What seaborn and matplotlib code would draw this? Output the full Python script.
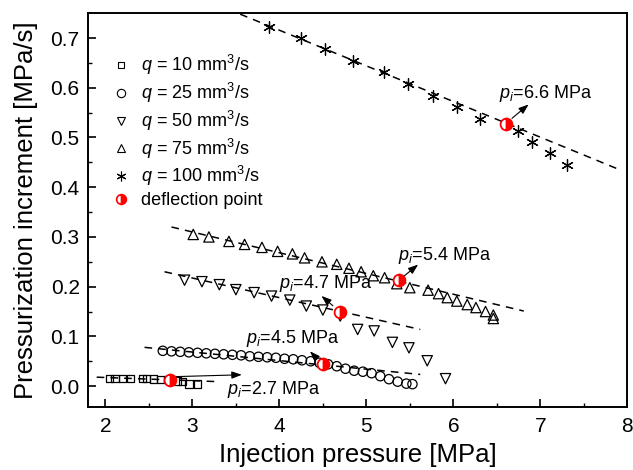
import numpy as np
import pandas as pd
import matplotlib
matplotlib.use("Agg")
import matplotlib.pyplot as plt
from matplotlib.lines import Line2D
import seaborn as sns

q10_x = [2.05, 2.11, 2.20, 2.29, 2.43, 2.47, 2.55, 2.63, 2.72, 2.83, 2.89, 2.96, 3.06]
q10_y = [0.016, 0.016, 0.016, 0.016, 0.015, 0.015, 0.014, 0.013, 0.013, 0.010, 0.009, 0.004, 0.004]

q25_x = [2.66, 2.76, 2.86, 2.96, 3.06, 3.16, 3.26, 3.36, 3.46, 3.56, 3.66, 3.76, 3.86, 3.96, 4.06,
         4.16, 4.26, 4.36, 4.46, 4.56, 4.66, 4.76, 4.86, 4.96, 5.06, 5.16, 5.26, 5.36, 5.46, 5.53]
q25_y = [0.071, 0.070, 0.069, 0.068, 0.067, 0.066, 0.065, 0.064, 0.063, 0.062, 0.060, 0.059, 0.058,
         0.057, 0.055, 0.054, 0.052, 0.050, 0.047, 0.044, 0.040, 0.035, 0.031, 0.029, 0.026, 0.020,
         0.014, 0.009, 0.005, 0.004]

q50_x = [2.91, 3.11, 3.31, 3.50, 3.71, 3.91, 4.12, 4.31, 4.50, 4.70, 4.90, 5.09, 5.30, 5.49, 5.70, 5.91]
q50_y = [0.213, 0.210, 0.204, 0.194, 0.188, 0.181, 0.173, 0.161, 0.153, 0.141, 0.114, 0.111, 0.088,
         0.077, 0.051, 0.015]

q75_x = [3.01, 3.19, 3.42, 3.60, 3.80, 3.98, 4.15, 4.29, 4.49, 4.66, 4.80, 4.94, 5.08, 5.21, 5.35,
         5.50, 5.71, 5.83, 5.93, 6.04, 6.16, 6.26, 6.37, 6.46, 6.46]
q75_y = [0.305, 0.300, 0.291, 0.285, 0.279, 0.271, 0.266, 0.258, 0.250, 0.245, 0.237, 0.230, 0.222,
         0.218, 0.206, 0.198, 0.193, 0.186, 0.178, 0.171, 0.164, 0.158, 0.150, 0.143, 0.136]

q100_x = [3.88, 4.25, 4.53, 4.85, 5.20, 5.48, 5.77, 6.04, 6.31, 6.74, 6.90, 7.11, 7.31]
q100_y = [0.722, 0.700, 0.677, 0.653, 0.631, 0.607, 0.583, 0.561, 0.537, 0.513, 0.491, 0.468, 0.444]

# dashed fit lines (start / end)
fit_x = {"10": [1.90, 3.30], "25": [2.45, 5.62], "50": [2.68, 5.62], "75": [2.76, 6.81], "100": [3.55, 7.88]}
fit_y = {"10": [0.018, 0.009], "25": [0.078, 0.0235], "50": [0.230, 0.114], "75": [0.320, 0.151], "100": [0.748, 0.4375]}

# deflection points
defl_x = [2.74, 4.50, 4.70, 5.37, 6.60]
defl_y = [0.013, 0.044, 0.149, 0.213, 0.528]
defl_labels = ["2.7", "4.5", "4.7", "5.4", "6.6"]

sns.set_style("ticks")
plt.rcParams["font.family"] = ["Liberation Sans", "DejaVu Sans"]
plt.rcParams["mathtext.fontset"] = "custom"
plt.rcParams["mathtext.rm"] = "Liberation Sans"
plt.rcParams["mathtext.it"] = "Liberation Sans:italic"
for key in ["text.color", "axes.labelcolor", "xtick.color", "ytick.color", "axes.edgecolor"]:
    plt.rcParams[key] = "black"

fig = plt.figure(figsize=(6.33, 4.70), dpi=100)
ax = fig.add_axes([0.139, 0.134, 0.852, 0.838])

for k in fit_x:
    sns.lineplot(x=fit_x[k], y=fit_y[k], ax=ax, color="black", lw=1.1, linestyle=(0, (5, 4)))

sns.scatterplot(x=q10_x, y=q10_y, ax=ax, marker="s", s=28, facecolor="none", edgecolor="black", linewidth=0.9)
sns.scatterplot(x=q25_x, y=q25_y, ax=ax, marker="o", s=45, facecolor="none", edgecolor="black", linewidth=0.9)
sns.scatterplot(x=q50_x, y=q50_y, ax=ax, marker="v", s=55, facecolor="none", edgecolor="black", linewidth=0.9)
sns.scatterplot(x=q75_x, y=q75_y, ax=ax, marker="^", s=55, facecolor="none", edgecolor="black", linewidth=0.9)
sns.scatterplot(x=q100_x, y=q100_y, ax=ax, marker=(6, 2, 0), s=70, color="black", edgecolor="black", linewidth=0.9)

ax.plot(defl_x, defl_y, linestyle="none", marker="o", markersize=8.5, fillstyle="right",
        markerfacecolor="red", markerfacecoloralt="white", markeredgecolor="red", markeredgewidth=1.3, zorder=5)

# annotations: (text xy, arrow tail, arrow tip)
ann_text = [(3.40, -0.006), (3.62, 0.096), (4.00, 0.207), (5.36, 0.263), (6.52, 0.589)]
ann_tail = [(2.78, 0.019), (4.44, 0.054), (4.64, 0.158), (5.41, 0.218), (6.65, 0.535)]
ann_tip = [(3.60, 0.023), (4.33, 0.074), (4.46, 0.185), (5.62, 0.248), (6.89, 0.570)]
for lab, t, a, b in zip(defl_labels, ann_text, ann_tail, ann_tip):
    ax.annotate("", xy=b, xytext=a,
                arrowprops=dict(arrowstyle="-|>,head_length=0.6,head_width=0.22", color="black", lw=0.8))
    ax.text(t[0], t[1], r"$p_i$=" + lab + " MPa", fontsize=13, va="center", ha="left")

ax.set_xlim(1.8, 8)
ax.set_ylim(-0.042, 0.75)
ax.set_xticks(np.arange(2, 9, 1))
ax.set_xticks(np.arange(2.5, 8, 1), minor=True)
ax.set_yticks(np.arange(0, 0.71, 0.1))
ax.set_yticks(np.arange(0.05, 0.75, 0.1), minor=True)
ax.set_yticklabels([f"{v:.1f}" for v in np.arange(0, 0.71, 0.1)])
ax.tick_params(which="major", direction="in", length=6, width=1.2, labelsize=15)
ax.tick_params(axis="x", which="major", pad=7)
ax.tick_params(axis="y", which="major", pad=6)
ax.tick_params(which="minor", direction="in", length=3, width=1.0)
for sp in ax.spines.values():
    sp.set_linewidth(1.4)
ax.set_xlabel("Injection pressure [MPa]", fontsize=18.5, labelpad=5)
ax.set_ylabel("Pressurization increment [MPa/s]", fontsize=18.5, labelpad=9)

handles = [
    Line2D([], [], ls="none", marker="s", ms=5, mfc="none", mec="black", mew=0.8, label=r"$q$ = 10 mm$^3$/s"),
    Line2D([], [], ls="none", marker="o", ms=6, mfc="none", mec="black", mew=0.8, label=r"$q$ = 25 mm$^3$/s"),
    Line2D([], [], ls="none", marker="v", ms=6, mfc="none", mec="black", mew=0.8, label=r"$q$ = 50 mm$^3$/s"),
    Line2D([], [], ls="none", marker="^", ms=6, mfc="none", mec="black", mew=0.8, label=r"$q$ = 75 mm$^3$/s"),
    Line2D([], [], ls="none", marker=(6, 2, 0), ms=7, color="black", mew=0.8, label=r"$q$ = 100 mm$^3$/s"),
    Line2D([], [], ls="none", marker="o", ms=7, fillstyle="right", mfc="red", mfcalt="white", mec="red",
           mew=1.2, label="deflection point"),
]
ax.legend(handles=handles, loc="upper left", bbox_to_anchor=(0.021, 0.93), frameon=False, fontsize=13,
          handlelength=1.0, handletextpad=0.6, labelspacing=0.2, borderpad=0.2)

fig.savefig("out.png", dpi=100)
